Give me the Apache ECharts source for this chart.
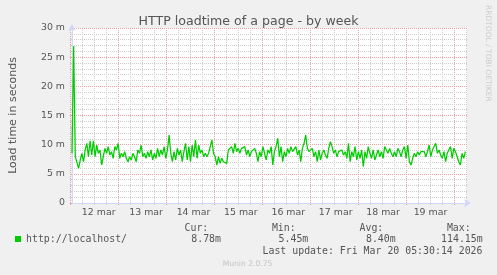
<!DOCTYPE html>
<html><head><meta charset="utf-8">
<style>html,body{margin:0;padding:0;background:#F0F0F0;}#c{width:497px;height:275px;}</style>
<script src="https://cdn.jsdelivr.net/npm/echarts@6/dist/echarts.min.js"></script>
</head><body><div id="c"></div>
<script>
const chartTitle = 'HTTP loadtime of a page - by week';
const yAxisName = 'Load time in seconds';
const seriesName = 'http://localhost/';
// load time (milliseconds, "m" unit), one sample every 50 minutes from Mar 11 22:30 (UTC)
const loadtime = [
8.52, 26.9, 7.94, 7.66, 5.94, 7.37, 8.52, 7.08, 9.09, 10.23,
7.94, 10.68, 8.23, 10.68, 7.94, 9.94, 8.52, 9.09, 6.51, 7.94,
9.37, 8.52, 9.66, 8.23, 8.8, 7.66, 9.66, 9.09, 10.23, 7.66,
8.52, 7.94, 8.8, 7.66, 7.08, 7.94, 7.37, 8.52, 7.94, 7.08,
9.09, 8.52, 9.94, 7.94, 8.52, 7.66, 8.8, 7.94, 9.09, 7.37,
8.52, 7.66, 9.37, 7.94, 9.09, 8.23, 9.66, 7.66, 9.09, 11.66,
8.52, 7.08, 8.8, 7.37, 9.37, 8.23, 9.09, 7.08, 8.8, 10.23,
7.37, 9.66, 7.08, 9.94, 7.94, 10.8, 7.66, 9.94, 8.52, 9.09,
7.94, 8.52, 7.94, 8.52, 8.8, 10.8, 8.52, 7.94, 6.51, 7.94,
6.8, 7.66, 7.08, 7.37, 6.8, 9.09, 8.8, 9.66, 8.52, 10.23,
8.8, 9.37, 8.52, 9.37, 9.09, 9.66, 8.23, 9.09, 7.94, 8.8,
8.8, 9.37, 8.52, 7.08, 8.8, 7.94, 9.66, 8.52, 7.37, 9.09,
8.52, 9.66, 6.51, 8.8, 9.66, 11.09, 7.94, 9.66, 7.08, 8.8,
7.94, 9.37, 8.52, 9.66, 8.8, 9.09, 9.66, 8.23, 9.09, 7.08,
9.37, 10.23, 11.66, 9.37, 8.8, 8.52, 9.37, 7.94, 8.8, 7.08,
9.09, 7.37, 8.52, 9.09, 8.23, 7.66, 9.37, 10.51, 9.66, 8.52,
9.09, 7.94, 8.8, 8.52, 9.09, 8.23, 8.8, 7.66, 10.23, 7.08,
8.8, 7.94, 9.66, 7.37, 8.8, 7.66, 9.09, 6.22, 8.8, 7.66,
9.66, 8.52, 7.66, 9.09, 7.37, 8.23, 9.09, 7.94, 8.8, 7.66,
9.66, 9.09, 8.52, 9.37, 8.52, 7.94, 8.8, 7.94, 9.37, 8.8,
7.94, 9.09, 9.66, 7.66, 9.94, 7.08, 6.51, 7.66, 8.52, 7.94,
8.8, 8.23, 8.8, 8.52, 8.8, 7.94, 8.8, 9.94, 7.94, 9.09,
8.8, 10.23, 8.52, 9.09, 8.23, 7.66, 8.8, 7.08, 8.52, 8.8,
9.66, 7.66, 9.37, 8.8, 7.94, 7.08, 6.51, 8.52, 7.66, 8.8
];
const yTickValues = [0, 5, 10, 15, 20, 25, 30];
const dayLabels = ['12 mar', '13 mar', '14 mar', '15 mar', '16 mar', '17 mar', '18 mar', '19 mar'];
const statHeaders = ['Cur:', 'Min:', 'Avg:', 'Max:'];
const statValues = ['8.78m', '5.45m', '8.40m', '114.15m'];
const lastUpdate = 'Last update: Fri Mar 20 05:30:14 2026';
const creditText = 'RRDTOOL / TOBI OETIKER';
const versionText = 'Munin 2.0.75';

const HOUR = 3600e3, DAY = 24 * HOUR;
const T0 = Date.UTC(2026, 2, 12);          // Mar 12 00:00
const xMin = T0 - 1.5 * HOUR;              // Mar 11 22:30 (left edge of plot)
const xMax = xMin + 200 * HOUR;            // 400 px at 30 min / px
const stepMs = 50 * 60e3;
const data = loadtime.map((v, i) => [xMin + i * stepMs, v]);
const noons = dayLabels.map((_, d) => T0 + d * DAY + 12 * HOUR);

const TXT = '#555555';
const MONO = '"DejaVu Sans Mono", monospace';
const SANS = '"DejaVu Sans", sans-serif';
const MGRID = '#EBA2A2';
const GRID = '#CDCDCD';
const AXIS = '#CFD6F8';

// plot area: 400 x 175 px; grid-line grids start at Mar 12 00:00 (3 px right of plot edge)
const PL = 67, PT = 28, PB = 72, PR = 30;
const hoursToGridEnd6 = 198;   // Mar 20 06:00
const hoursToGridEnd24 = 192;  // Mar 20 00:00

const chart = echarts.init(document.getElementById('c'), null, {renderer: 'canvas'});
const graphic = [];
const hdrRight = [208.3, 295.7, 383.3, 470.7];
const valRight = [221, 308.3, 395.7, 482.7];
statHeaders.forEach((h, i) => graphic.push({type: 'text', x: hdrRight[i], y: 228, style: {text: h, font: '9.9px ' + MONO, fill: TXT, textAlign: 'right', textVerticalAlign: 'middle'}}));
statValues.forEach((h, i) => graphic.push({type: 'text', x: valRight[i], y: 239.5, style: {text: h, font: '9.9px ' + MONO, fill: TXT, textAlign: 'right', textVerticalAlign: 'middle'}}));
graphic.push({type: 'text', x: 482.5, y: 251, style: {text: lastUpdate, font: '9.9px ' + MONO, fill: TXT, textAlign: 'right', textVerticalAlign: 'middle'}});
graphic.push({type: 'text', x: 247.5, y: 264, style: {text: versionText, font: '7.6px ' + SANS, fill: '#C4C4C4', textAlign: 'center', textVerticalAlign: 'middle'}});
graphic.push({type: 'text', x: 488, y: 5, rotation: -Math.PI / 2, style: {text: creditText, font: '7.5px ' + SANS, fill: '#CCCCCC', textAlign: 'left', textVerticalAlign: 'middle'}});

const hidden = {axisLine: {show: false}, axisLabel: {show: false}};
chart.setOption({
  animation: false,
  backgroundColor: '#F0F0F0',
  title: {text: chartTitle, left: 'center', top: 10, textStyle: {fontFamily: SANS, fontSize: 12.6, fontWeight: 'normal', color: TXT}},
  legend: {data: [seriesName], left: 15, top: 234, icon: 'rect', itemWidth: 6, itemHeight: 6, padding: 0,
    textStyle: {fontFamily: MONO, fontSize: 9.9, color: TXT}},
  grid: [
    {left: PL, right: PR, top: PT, bottom: PB, show: true, backgroundColor: '#FFFFFF', borderWidth: 0},
    {left: PL + 3, right: PR + 1, top: PT, bottom: PB, show: false},
    {left: PL + 3, right: PR + 13, top: PT, bottom: PB, show: false}
  ],
  xAxis: [{
    gridIndex: 0, type: 'value', min: xMin, max: xMax, position: 'bottom', z: 4,
    axisLine: {show: true, lineStyle: {color: AXIS, width: 1}, symbol: ['none', 'arrow'], symbolSize: [6, 7], symbolOffset: [0, 4]},
    axisTick: {show: false},
    splitLine: {show: false},
    axisLabel: {show: true, customValues: noons, margin: 5, color: TXT, fontFamily: SANS, fontSize: 9.4,
      formatter: v => dayLabels[Math.round((v - T0 - 12 * HOUR) / DAY)] || ''}
  }, Object.assign({
    gridIndex: 1, type: 'value', min: 0, max: hoursToGridEnd6, interval: 6, position: 'bottom', z: 1,
    axisTick: {show: true, length: 2, lineStyle: {color: GRID}},
    splitLine: {show: true, lineStyle: {color: GRID, type: [1, 1], width: 1}}
  }, hidden), Object.assign({
    gridIndex: 2, type: 'value', min: 0, max: hoursToGridEnd24, interval: 24, position: 'bottom', z: 2,
    axisTick: {show: true, length: 2, lineStyle: {color: MGRID}},
    splitLine: {show: true, lineStyle: {color: MGRID, type: [1, 1], width: 1}}
  }, hidden)],
  yAxis: [{
    gridIndex: 0, type: 'value', min: 0, max: 30, interval: 5, z: 4,
    name: yAxisName, nameLocation: 'middle', nameGap: 53,
    nameTextStyle: {fontFamily: SANS, fontSize: 11, color: TXT},
    axisLine: {show: true, lineStyle: {color: AXIS, width: 1}, symbol: ['none', 'arrow'], symbolSize: [6, 7], symbolOffset: [0, 4]},
    axisTick: {show: true, length: 2, lineStyle: {color: MGRID}},
    minorTick: {show: true, splitNumber: 5, length: 2, lineStyle: {color: GRID}},
    splitLine: {show: true, lineStyle: {color: MGRID, type: [1, 1], width: 1}},
    minorSplitLine: {show: true, lineStyle: {color: GRID, type: [1, 1], width: 1}},
    axisLabel: {margin: 7, color: TXT, fontFamily: SANS, fontSize: 9.4,
      formatter: v => yTickValues.indexOf(v) === 0 ? '0' : v + ' m'}
  }, Object.assign({gridIndex: 1, type: 'value', min: 0, max: 30, axisTick: {show: false}, splitLine: {show: false}}, hidden),
     Object.assign({gridIndex: 2, type: 'value', min: 0, max: 30, axisTick: {show: false}, splitLine: {show: false}}, hidden)],
  series: [{
    name: seriesName, type: 'line', xAxisIndex: 0, yAxisIndex: 0, data: data, showSymbol: false, symbol: 'none',
    color: '#00CC00', lineStyle: {color: '#00CC00', width: 1.25}, z: 5
  }],
  graphic: graphic
});
</script>
</body></html>
